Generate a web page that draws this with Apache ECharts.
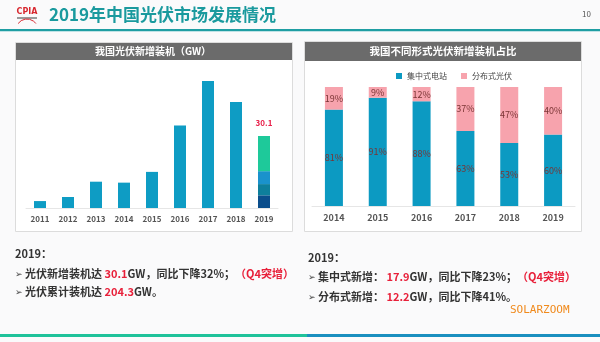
<!DOCTYPE html>
<html><head><meta charset="utf-8">
<script src="https://cdn.jsdelivr.net/npm/echarts@6/dist/echarts.min.js"></script>
<style>html,body{margin:0;padding:0;background:#fafafb;}#c{width:600px;height:342px;}</style>
</head><body><div id="c"></div>
<script>
// Left chart: new installations (GW)
var yearsLeft = ['2011','2012','2013','2014','2015','2016','2017','2018','2019'];
var newInstall = [2.9, 4.6, 11.0, 10.6, 15.1, 34.5, 53.1, 44.3, null];
// 2019 split into stacked quarterly segments (bottom to top)
var q1_2019 = [null,null,null,null,null,null,null,null,5.3];
var q2_2019 = [null,null,null,null,null,null,null,null,4.7];
var q3_2019 = [null,null,null,null,null,null,null,null,5.4];
var q4_2019 = [null,null,null,null,null,null,null,null,14.7];
var total2019Label = '30.1';

// Right chart: share by type (%)
var yearsRight = ['2014','2015','2016','2017','2018','2019'];
var centralized = [81, 91, 88, 63, 53, 60];
var distributed = [19, 9, 12, 37, 47, 40];
var legendNames = ['集中式电站','分布式光伏'];

var FONT = '"Noto Sans CJK SC","Noto Sans",sans-serif';
var chart = echarts.init(document.getElementById('c'), null, {renderer:'canvas'});

function seg(name, data, color, extra){
  var s = {name:name, type:'bar', stack:'l', xAxisIndex:0, yAxisIndex:0, data:data,
    barWidth:12, itemStyle:{color:color}, silent:true};
  if (extra) for (var k in extra) s[k]=extra[k];
  return s;
}

var redTxt = '#e8203a';
var FS = 'bold 11px ';
function richStyle(){
  return {a:{fill:'#444',font:'9px '+FONT},b:{fill:'#333',font:FS+FONT},r:{fill:redTxt,font:FS+FONT}};
}
chart.setOption({
  backgroundColor:'#fafafb',
  animation:false,
  textStyle:{fontFamily:FONT},
  graphic:[
    // header
    {type:'rect', shape:{x:0,y:29,width:600,height:2}, style:{fill:'#1f9ea3'}},
    {type:'rect', shape:{x:0,y:31,width:600,height:1}, style:{fill:'#bfe3e6'}},
    {type:'text', left:49, top:6, style:{text:'2019年中国光伏市场发展情况', fill:'#1a9a9e', font:'bold 17px '+FONT}},
    {type:'text', x:27, y:12, style:{text:'CPIA', fill:'#d8282f', font:'bold 8px "DejaVu Sans"', textAlign:'center', textVerticalAlign:'middle'}},
    {type:'rect', shape:{x:17,y:17,width:20,height:2}, style:{fill:'#9a9a9a'}},
    {type:'arc', shape:{cx:27,cy:30,r:11,startAngle:Math.PI*1.2,endAngle:Math.PI*1.8}, style:{stroke:'#d8282f',lineWidth:1,fill:null}},
    {type:'text', left:582, top:10, style:{text:'10', fill:'#555', font:'8px '+FONT}},
    // panels
    {type:'rect', shape:{x:15.5,y:42.5,width:277,height:189}, style:{fill:'#fff', stroke:'#dcdcdc', lineWidth:1}, z:-1},
    {type:'rect', shape:{x:16,y:43,width:276,height:17}, style:{fill:'#6b6b6b'}},
    {type:'text', x:153, y:51.5, style:{text:'我国光伏新增装机（GW）', fill:'#fff', font:'bold 10px '+FONT, textAlign:'center', textVerticalAlign:'middle'}},
    {type:'rect', shape:{x:304.5,y:41.5,width:277,height:190}, style:{fill:'#fff', stroke:'#dcdcdc', lineWidth:1}, z:-1},
    {type:'rect', shape:{x:305,y:42,width:276,height:19}, style:{fill:'#6b6b6b'}},
    {type:'text', x:443, y:51.5, style:{text:'我国不同形式光伏新增装机占比', fill:'#fff', font:'bold 10.5px '+FONT, textAlign:'center', textVerticalAlign:'middle'}},
    // bottom texts left
    {type:'text', left:15, top:248, style:{text:'2019：', fill:'#333', font:'bold 11px '+FONT}},
    {type:'text', left:15, top:268, style:{
      text:'{a|➢ }{b|光伏新增装机达 }{r|30.1}{b|GW，同比下降32%；}{r|（Q4突增）}', rich:richStyle()}},
    {type:'text', left:15, top:286, style:{
      text:'{a|➢ }{b|光伏累计装机达 }{r|204.3}{b|GW。}', rich:richStyle()}},
    // bottom texts right
    {type:'text', left:308, top:252, style:{text:'2019：', fill:'#333', font:'bold 11px '+FONT}},
    {type:'text', left:308, top:271, style:{
      text:'{a|➢ }{b|集中式新增： }{r|17.9}{b|GW，同比下降23%；}{r|（Q4突增）}', rich:richStyle()}},
    {type:'text', left:308, top:291, style:{
      text:'{a|➢ }{b|分布式新增： }{r|12.2}{b|GW，同比下降41%。}', rich:richStyle()}},
    {type:'text', left:510, top:305, style:{text:'SOLARZOOM', fill:'#f08a1c', font:'11px "DejaVu Sans Mono"'}},
    // bottom stripe
    {type:'rect', shape:{x:0,y:334,width:307,height:3}, style:{fill:'#1fc29a'}},
    {type:'rect', shape:{x:307,y:334,width:293,height:3}, style:{fill:'#1a8fbf'}}
  ],
  legend:{data:legendNames, top:67, left:391, itemWidth:6, itemHeight:6, itemGap:14, icon:'rect',
    textStyle:{fontSize:8, color:'#444', fontFamily:'"Noto Sans CJK SC",serif'}},
  grid:[
    {left:26, top:64.5, width:252, height:143.5},
    {left:312, top:87, width:263, height:119}
  ],
  xAxis:[
    {type:'category', gridIndex:0, data:yearsLeft, axisTick:{show:false},
      axisLine:{lineStyle:{color:'#e6e6e6'}},
      axisLabel:{color:'#555', fontSize:8, fontWeight:'bold', margin:7}},
    {type:'category', gridIndex:1, data:yearsRight, axisTick:{show:false},
      axisLine:{lineStyle:{color:'#e6e6e6'}},
      axisLabel:{color:'#555', fontSize:9, fontWeight:'bold', margin:7}}
  ],
  yAxis:[
    {type:'value', gridIndex:0, min:0, max:60, show:false, splitLine:{show:false}},
    {type:'value', gridIndex:1, min:0, max:100, show:false, splitLine:{show:false}}
  ],
  series:[
    seg('新增', newInstall, '#0e9cc4'),
    seg('Q1', q1_2019, '#0b4e8c'),
    seg('Q2', q2_2019, '#0e7f9c'),
    seg('Q3', q3_2019, '#1a92cc'),
    seg('Q4', q4_2019, '#1ec99a', {label:{show:true, position:'top', distance:9,
      formatter:function(){return total2019Label;}, color:'#e8204a', fontSize:8, fontWeight:'bold'}}),
    {name:legendNames[0], type:'bar', stack:'r', xAxisIndex:1, yAxisIndex:1, data:centralized, barWidth:18,
      itemStyle:{color:'#0c9ac2'},
      label:{show:true, position:'inside', formatter:'{c}%', color:'#7a3434', fontSize:9}},
    {name:legendNames[1], type:'bar', stack:'r', xAxisIndex:1, yAxisIndex:1, data:distributed, barWidth:18,
      itemStyle:{color:'#f7a3ad'},
      label:{show:true, position:'inside', formatter:'{c}%', color:'#7a3434', fontSize:9}}
  ]
});
</script></body></html>
